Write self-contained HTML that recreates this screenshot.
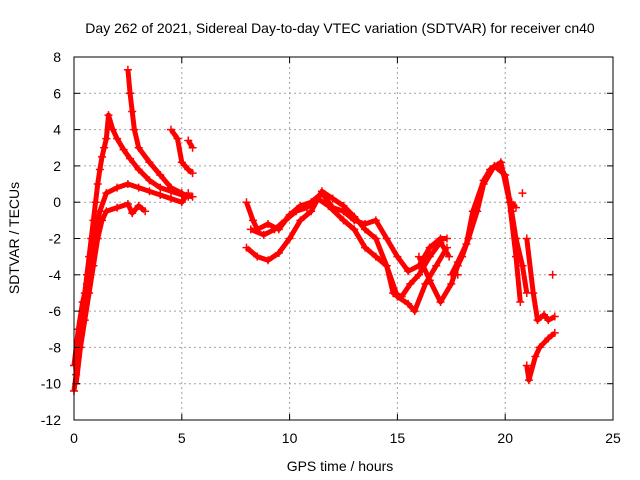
<!DOCTYPE html>
<html><head><meta charset="utf-8"><style>
body{margin:0;background:#fff}
svg{display:block;font-family:"Liberation Sans",sans-serif}
</style></head><body>
<svg id="chart" width="640" height="480">
<rect width="640" height="480" fill="#fff"/>
<g id="grid"></g><g id="marks"></g><g id="axes"></g>
<text x="340" y="33" text-anchor="middle" font-size="14">Day 262 of 2021, Sidereal Day-to-day VTEC variation (SDTVAR) for receiver cn40</text>
<text x="340" y="471" text-anchor="middle" font-size="14">GPS time / hours</text>
<text transform="translate(19,238) rotate(-90)" text-anchor="middle" font-size="14">SDTVAR / TECUs</text>
</svg>
<script>
const xTicks=[0,5,10,15,20,25];
const yTicks=[-12,-10,-8,-6,-4,-2,0,2,4,6,8];
const tracks=[
[[0,-10.4],[0.1,-9.5],[0.2,-8],[0.3,-7],[0.4,-6],[0.5,-5],[0.6,-4],[0.7,-3],[0.8,-2],[0.9,-1],[1,0],[1.1,1],[1.2,1.8],[1.3,2.5],[1.4,3],[1.5,3.5],[1.6,4.8],[1.8,4],[2,3.5],[2.3,2.9],[2.6,2.4],[3,1.8],[3.5,1.2],[4,0.8],[4.5,0.6],[5,0.4],[5.5,0.3]],
[[0,-9],[0.2,-7],[0.4,-5.5],[0.6,-4.5],[0.8,-3],[1,-1.5],[1.2,-0.5],[1.5,0.5],[2,0.8],[2.5,1],[3,0.8],[3.5,0.6],[4,0.4],[4.5,0.2],[5,0],[5.3,0.5]],
[[0.1,-10],[0.3,-8],[0.5,-6.5],[0.7,-5],[0.9,-3.5],[1.1,-2],[1.3,-1],[1.5,-0.5],[2,-0.3],[2.5,-0.1],[2.7,-0.6],[3,-0.2],[3.3,-0.5]],
[[2.5,7.3],[2.6,6],[2.7,5],[2.8,4],[3,3],[3.5,2.2],[4,1.5],[4.5,0.8],[5,0.5],[5.3,0.3]],
[[4.5,4],[4.8,3.5],[5,2.2],[5.3,1.8],[5.5,1.6]],
[[5.3,3.4],[5.5,3]],
[[8,0],[8.3,-1],[8.5,-1.5],[9,-1.2],[9.5,-1.5],[10,-0.7],[10.5,-0.2],[11,0],[11.5,0.5],[12,-0.3],[12.5,-0.5],[13,-1],[13.5,-1.2],[14,-1],[14.5,-2],[15,-3],[15.5,-3.8],[16,-3.5],[16.5,-2.5],[17,-2],[17.3,-2]],
[[8,-2.5],[8.5,-3],[9,-3.2],[9.5,-2.8],[10,-2],[10.5,-1],[11,-0.5],[11.5,0.6],[12,0.2],[12.5,-0.2],[13,-0.8],[13.5,-1.5],[14,-2],[14.5,-3.5],[15,-5.2],[15.5,-5.6],[15.8,-6],[16.3,-4.5],[16.8,-3.5],[17.3,-2.5]],
[[8.2,-1.5],[8.8,-1.8],[9.3,-1.5],[9.8,-1],[10.3,-0.5],[10.8,-0.3],[11.3,0.2],[11.8,-0.2],[12.5,-1],[13,-1.5],[13.5,-2.5],[14,-3],[14.5,-3.5],[14.8,-5],[15.2,-5.2],[15.6,-4.5],[16,-4],[16.5,-3],[17,-2.2],[17.4,-3]],
[[16,-3],[16.5,-4.3],[17,-5.5],[17.5,-4.5],[17.8,-3.5],[18,-3],[18.3,-2],[18.7,-0.5],[19,1],[19.5,2],[20,1.5],[20.3,-0.5],[20.5,-2],[20.8,-3.5],[21,-5]],
[[17.5,-4],[17.8,-3.3],[18.2,-2.3],[18.5,-0.5],[19,1.2],[19.3,1.8],[19.8,2.2],[20.2,0],[20.5,-3],[20.7,-5.5]],
[[21,-2],[21.3,-5],[21.5,-6.5],[21.8,-6.2],[22,-6.5],[22.3,-6.3]],
[[21,-9],[21.1,-9.8],[21.4,-8.5],[21.6,-8],[22,-7.5],[22.3,-7.2]],
[[20.3,0],[20.5,-0.3]],[[20.8,0.5]],[[22.2,-4]],[[17.8,-4]]
];
const L=74,R=613,T=57,B=420,NS="http://www.w3.org/2000/svg";
const sx=v=>L+(v-0)/(25-0)*(R-L), sy=v=>B-(v+12)/20*(B-T);
function mk(tag,at,p){const e=document.createElementNS(NS,tag);for(const k in at)e.setAttribute(k,at[k]);p.appendChild(e);return e;}
const grid=document.getElementById('grid'),axes=document.getElementById('axes'),marks=document.getElementById('marks');
xTicks.forEach(t=>{const x=sx(t);
 if(t>0&&t<25){const g=mk('line',{x1:x,x2:x,y1:T,y2:B,stroke:'#a0a0a0','stroke-dasharray':'2,3'},grid);}
 mk('line',{x1:x,x2:x,y1:B,y2:B-6,stroke:'#000'},axes);mk('line',{x1:x,x2:x,y1:T,y2:T+6,stroke:'#000'},axes);
 const tx=mk('text',{x:x,y:B+23,'text-anchor':'middle','font-size':14},axes);tx.textContent=t;
 });
yTicks.forEach(t=>{const y=sy(t);
 if(t>-12&&t<8){const g=mk('line',{x1:L,x2:R,y1:y,y2:y,stroke:'#a0a0a0','stroke-dasharray':'2,3'},grid);}
 mk('line',{x1:L,x2:L+6,y1:y,y2:y,stroke:'#000'},axes);mk('line',{x1:R,x2:R-6,y1:y,y2:y,stroke:'#000'},axes);
 const tx=mk('text',{x:L-13,y:y+5,'text-anchor':'end','font-size':14},axes);tx.textContent=t;
 });
const fr=mk('rect',{x:L,y:T,width:R-L,height:B-T,fill:'none',stroke:'#000'},axes);

tracks.forEach(tr=>{
 const g=mk('g',{},marks);
 
 
 if(tr.length>1)mk('polyline',{points:tr.map(p=>sx(p[0])+','+sy(p[1])).join(' '),fill:'none',stroke:'#f00','stroke-width':5,'stroke-linejoin':'round'},g);
 tr.forEach(p=>{const x=sx(p[0]),y=sy(p[1]);
  const m=mk('path',{d:`M${x-4},${y}h8M${x},${y-4}v8`,stroke:'#f00','stroke-width':1.5},g);
  
  });
});
</script>
</body></html>
